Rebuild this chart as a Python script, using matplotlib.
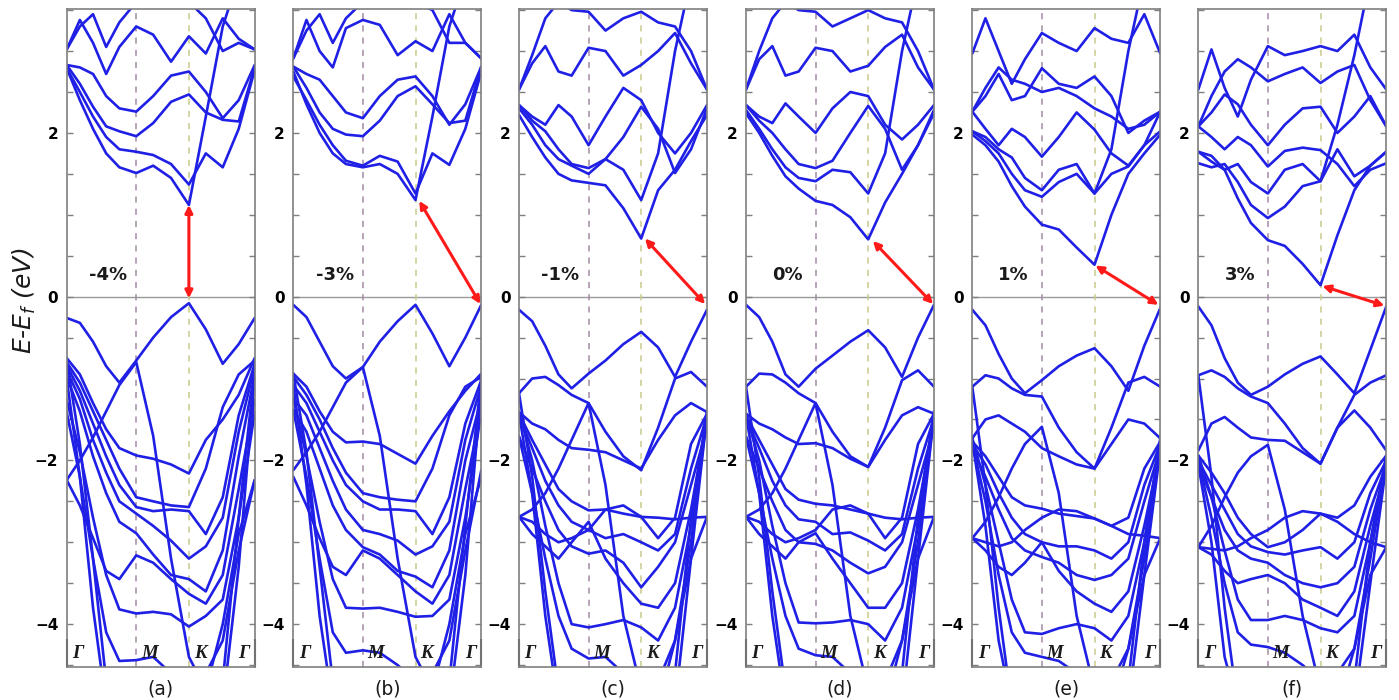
import matplotlib
matplotlib.use('Agg')
import matplotlib.pyplot as plt
from matplotlib.ticker import MultipleLocator

# k-path sample positions (fraction of Gamma-M-K-Gamma path)
k_pts = [0, .07, .14, .21, .28, .37, .46, .555, .65, .74, .83, .915, 1.0]
k_m = 0.37
k_k = 0.65
sym_labels = ['Γ', 'M', 'K', 'Γ']
sym_label_x = [0.06, 0.44, 0.71, 0.945]

panel_tags = ['(a)', '(b)', '(c)', '(d)', '(e)', '(f)']
strains = ['-4%', '-3%', '-1%', '0%', '1%', '3%']

# (k, E) of the gap arrows: conduction band minimum -> valence band maximum
arrow_cbm = [(0.65, 1.12), (0.67, 1.17), (0.67, 0.71), (0.675, 0.68), (0.655, 0.38), (0.66, 0.13)]
arrow_vbm = [(0.65, -0.02), (0.995, -0.09), (0.99, -0.09), (0.995, -0.09), (0.99, -0.10), (0.99, -0.11)]

# ---- band energies (eV) read at k_pts ----
cb_a = [
    [2.79, 2.40, 2.05, 1.75, 1.58, 1.51, 1.60, 1.45, 1.12, 2.20, 3.30, 3.90, 3.90],
    [2.79, 2.50, 2.20, 1.95, 1.80, 1.77, 1.73, 1.62, 1.37, 1.75, 1.58, 2.05, 2.77],
    [2.83, 2.60, 2.32, 2.08, 2.02, 1.96, 2.12, 2.38, 2.47, 2.25, 2.16, 2.14, 2.80],
    [2.83, 2.80, 2.72, 2.45, 2.30, 2.26, 2.45, 2.70, 2.75, 2.50, 2.18, 2.40, 2.83],
    [3.02, 3.38, 3.10, 2.72, 3.05, 3.30, 3.20, 2.87, 3.18, 2.97, 3.40, 3.15, 3.02],
    [3.02, 3.30, 3.45, 3.05, 3.35, 3.60, 3.60, 3.60, 3.60, 3.40, 3.00, 3.10, 3.02],
]
vb_a = [
    [-0.26, -0.32, -0.55, -0.85, -1.05, -0.78, -0.50, -0.25, -0.08, -0.40, -0.82, -0.58, -0.26],
    [-0.75, -0.95, -1.30, -1.62, -1.85, -1.94, -1.98, -2.05, -2.16, -1.75, -1.50, -1.20, -0.75],
    [-2.24, -2.00, -1.72, -1.40, -1.08, -0.80, -1.70, -3.20, -4.40, -4.80, -4.00, -2.90, -2.24],
    [-0.80, -1.05, -1.40, -1.75, -2.10, -2.45, -2.50, -2.55, -2.57, -2.10, -1.35, -0.95, -0.78],
    [-0.84, -1.15, -1.55, -1.95, -2.30, -2.57, -2.62, -2.60, -2.62, -2.90, -2.45, -1.45, -0.82],
    [-0.90, -1.25, -1.75, -2.15, -2.50, -2.65, -2.80, -2.98, -3.20, -3.05, -2.70, -1.65, -0.86],
    [-0.98, -1.40, -1.95, -2.40, -2.75, -2.89, -3.15, -3.40, -3.45, -3.60, -3.10, -1.95, -0.95],
    [-2.24, -2.55, -2.95, -3.35, -3.45, -3.16, -3.25, -3.45, -3.63, -3.75, -3.40, -2.35, -1.26],
    [-1.26, -1.90, -2.70, -3.40, -3.82, -3.87, -3.85, -3.88, -4.03, -3.90, -3.70, -2.70, -1.41],
    [-1.41, -2.20, -3.20, -4.10, -4.45, -4.44, -4.40, -4.60, -4.80, -4.60, -4.20, -3.10, -2.24],
    [-0.78, -1.80, -3.20, -4.70, -5.00, -5.00, -5.00, -5.00, -5.00, -5.00, -4.70, -2.70, -0.90],
    [-1.00, -2.20, -3.80, -5.00, -5.00, -5.00, -5.00, -5.00, -5.00, -5.00, -5.00, -3.30, -0.98],
]

cb_b = [
    [2.75, 2.35, 2.00, 1.75, 1.62, 1.58, 1.62, 1.50, 1.18, 2.20, 3.30, 3.90, 3.90],
    [2.69, 2.40, 2.10, 1.85, 1.66, 1.60, 1.72, 1.65, 1.26, 1.75, 1.61, 2.05, 2.75],
    [2.81, 2.55, 2.25, 2.05, 1.98, 1.96, 2.15, 2.45, 2.57, 2.35, 2.12, 2.15, 2.81],
    [2.81, 2.72, 2.65, 2.45, 2.25, 2.18, 2.45, 2.65, 2.69, 2.45, 2.10, 2.35, 2.81],
    [2.91, 3.38, 3.00, 2.80, 3.28, 3.38, 3.32, 2.95, 3.12, 3.00, 3.45, 3.10, 2.91],
    [2.91, 3.25, 3.45, 3.10, 3.40, 3.60, 3.60, 3.60, 3.60, 3.50, 3.10, 3.10, 2.91],
]
vb_b = [
    [-0.10, -0.25, -0.55, -0.85, -1.00, -0.86, -0.55, -0.30, -0.10, -0.45, -0.85, -0.50, -0.10],
    [-0.94, -1.10, -1.40, -1.65, -1.78, -1.77, -1.80, -1.92, -2.04, -1.70, -1.40, -1.15, -0.94],
    [-2.12, -1.90, -1.65, -1.35, -1.05, -0.86, -1.70, -3.20, -4.40, -4.80, -4.00, -2.90, -2.20],
    [-0.98, -1.20, -1.50, -1.85, -2.15, -2.40, -2.45, -2.48, -2.50, -2.10, -1.45, -1.10, -0.98],
    [-1.08, -1.30, -1.65, -2.00, -2.30, -2.50, -2.60, -2.60, -2.62, -2.90, -2.45, -1.55, -1.02],
    [-1.24, -1.45, -1.85, -2.25, -2.60, -2.85, -2.90, -2.98, -3.15, -3.05, -2.75, -1.75, -1.08],
    [-1.38, -1.65, -2.10, -2.55, -2.85, -3.06, -3.15, -3.35, -3.42, -3.55, -3.10, -2.00, -1.24],
    [-2.20, -2.55, -2.95, -3.30, -3.40, -3.10, -3.20, -3.40, -3.60, -3.75, -3.40, -2.35, -1.38],
    [-1.24, -1.95, -2.75, -3.45, -3.80, -3.81, -3.80, -3.85, -3.91, -3.90, -3.70, -2.70, -1.40],
    [-1.38, -2.20, -3.20, -4.10, -4.35, -4.32, -4.35, -4.50, -4.70, -4.60, -4.20, -3.10, -2.12],
    [-0.94, -1.90, -3.30, -4.70, -5.00, -5.00, -5.00, -5.00, -5.00, -5.00, -4.70, -2.80, -1.00],
    [-1.08, -2.30, -3.90, -5.00, -5.00, -5.00, -5.00, -5.00, -5.00, -5.00, -5.00, -3.40, -1.10],
]

cb_c = [
    [2.22, 1.95, 1.70, 1.50, 1.42, 1.39, 1.36, 1.08, 0.71, 1.30, 1.55, 1.90, 2.22],
    [2.30, 2.10, 1.85, 1.68, 1.60, 1.50, 1.68, 1.55, 1.18, 1.75, 3.00, 3.90, 3.90],
    [2.34, 2.20, 2.10, 2.34, 2.20, 1.85, 2.20, 2.55, 2.40, 2.00, 1.75, 2.00, 2.34],
    [2.34, 2.15, 2.02, 1.80, 1.62, 1.57, 1.68, 1.95, 2.32, 2.05, 1.51, 1.80, 2.30],
    [2.53, 2.85, 3.06, 2.75, 2.70, 3.04, 3.00, 2.70, 2.83, 3.00, 3.22, 2.85, 2.53],
    [2.53, 2.95, 3.40, 3.60, 3.50, 3.48, 3.25, 3.40, 3.48, 3.35, 3.30, 3.00, 2.53],
]
vb_c = [
    [-0.16, -0.30, -0.60, -0.95, -1.12, -0.94, -0.78, -0.58, -0.43, -0.62, -0.98, -0.55, -0.16],
    [-1.18, -1.00, -0.98, -1.08, -1.20, -1.30, -1.65, -1.95, -2.12, -1.60, -1.00, -0.92, -1.10],
    [-1.41, -1.55, -1.62, -1.75, -1.85, -1.87, -1.90, -2.00, -2.10, -1.75, -1.45, -1.30, -1.41],
    [-1.43, -1.75, -2.05, -2.35, -2.50, -2.61, -2.60, -2.65, -2.69, -2.95, -2.70, -1.80, -1.43],
    [-1.45, -1.85, -2.25, -2.55, -2.75, -2.85, -2.95, -2.90, -3.00, -3.10, -2.90, -2.10, -1.45],
    [-1.71, -2.10, -2.50, -2.85, -3.05, -3.14, -3.10, -3.25, -3.55, -3.30, -3.00, -2.30, -1.60],
    [-2.69, -2.90, -3.05, -3.20, -3.00, -2.75, -3.20, -3.50, -3.75, -3.80, -3.50, -2.60, -1.50],
    [-2.69, -2.60, -2.40, -2.10, -1.75, -1.30, -2.30, -3.90, -4.80, -5.00, -4.20, -3.20, -2.69],
    [-1.41, -2.00, -2.80, -3.50, -4.00, -4.04, -4.00, -3.95, -4.04, -4.20, -3.80, -2.80, -1.43],
    [-1.71, -2.40, -3.20, -3.90, -4.30, -4.42, -4.40, -4.60, -4.80, -4.70, -4.20, -3.00, -1.45],
    [-1.18, -2.20, -3.60, -4.80, -5.00, -5.00, -5.00, -5.00, -5.00, -5.00, -4.60, -2.70, -1.40],
    [-1.43, -2.40, -3.90, -5.00, -5.00, -5.00, -5.00, -5.00, -5.00, -5.00, -5.00, -3.20, -1.45],
    [-2.69, -2.75, -2.90, -3.00, -2.95, -2.85, -2.60, -2.55, -2.69, -2.70, -2.72, -2.70, -2.69],
]

cb_d = [
    [2.24, 2.00, 1.72, 1.47, 1.32, 1.17, 1.12, 0.97, 0.70, 1.15, 1.50, 1.85, 2.24],
    [2.28, 2.05, 1.80, 1.58, 1.45, 1.41, 1.55, 1.52, 1.26, 1.75, 3.00, 3.90, 3.90],
    [2.34, 2.20, 2.12, 2.36, 2.20, 2.00, 2.30, 2.50, 2.45, 2.10, 1.92, 2.10, 2.34],
    [2.34, 2.15, 2.00, 1.80, 1.62, 1.57, 1.66, 2.00, 2.33, 2.05, 1.55, 1.85, 2.28],
    [2.53, 2.90, 3.06, 2.70, 2.75, 3.04, 3.00, 2.75, 2.82, 3.05, 3.20, 2.80, 2.53],
    [2.53, 3.00, 3.40, 3.60, 3.50, 3.48, 3.30, 3.40, 3.50, 3.40, 3.35, 3.00, 2.53],
]
vb_d = [
    [-0.10, -0.25, -0.55, -0.95, -1.10, -0.88, -0.72, -0.55, -0.41, -0.62, -0.98, -0.50, -0.10],
    [-1.10, -0.94, -0.95, -1.05, -1.18, -1.30, -1.65, -1.95, -2.08, -1.60, -1.02, -0.90, -1.10],
    [-1.43, -1.55, -1.62, -1.72, -1.80, -1.79, -1.85, -1.98, -2.08, -1.75, -1.45, -1.35, -1.43],
    [-1.45, -1.75, -2.05, -2.35, -2.48, -2.53, -2.55, -2.60, -2.65, -2.95, -2.70, -1.80, -1.43],
    [-1.48, -1.85, -2.25, -2.55, -2.72, -2.75, -2.90, -2.88, -2.98, -3.10, -2.90, -2.10, -1.48],
    [-1.71, -2.10, -2.50, -2.85, -3.00, -3.02, -3.10, -3.25, -3.38, -3.30, -3.00, -2.30, -1.60],
    [-2.69, -2.90, -3.05, -3.20, -3.00, -2.89, -3.20, -3.50, -3.80, -3.80, -3.50, -2.60, -1.52],
    [-2.69, -2.60, -2.40, -2.10, -1.75, -1.30, -2.30, -3.90, -4.80, -5.00, -4.20, -3.20, -2.69],
    [-1.43, -2.00, -2.80, -3.50, -3.98, -3.99, -3.98, -3.95, -4.00, -4.20, -3.80, -2.80, -1.43],
    [-1.71, -2.40, -3.20, -3.90, -4.30, -4.38, -4.40, -4.60, -4.80, -4.70, -4.20, -3.00, -1.45],
    [-1.10, -2.20, -3.60, -4.80, -5.00, -5.00, -5.00, -5.00, -5.00, -5.00, -4.60, -2.70, -1.40],
    [-1.45, -2.40, -3.90, -5.00, -5.00, -5.00, -5.00, -5.00, -5.00, -5.00, -5.00, -3.20, -1.45],
    [-2.69, -2.75, -2.90, -3.00, -2.95, -2.85, -2.60, -2.55, -2.65, -2.70, -2.72, -2.70, -2.69],
]

cb_e = [
    [1.98, 1.85, 1.65, 1.35, 1.10, 0.88, 0.82, 0.60, 0.39, 1.00, 1.50, 1.75, 1.98],
    [2.02, 1.90, 1.75, 1.50, 1.30, 1.22, 1.40, 1.50, 1.26, 1.80, 3.00, 3.90, 3.90],
    [2.02, 1.95, 1.80, 1.70, 1.45, 1.30, 1.55, 1.62, 1.26, 1.50, 1.59, 1.85, 2.02],
    [2.26, 2.05, 1.85, 2.05, 1.95, 1.71, 1.95, 2.25, 2.04, 1.75, 1.60, 1.85, 2.26],
    [2.26, 2.45, 2.72, 2.40, 2.45, 2.79, 2.60, 2.55, 2.69, 2.45, 2.00, 2.15, 2.26],
    [2.26, 2.55, 2.80, 2.65, 2.60, 2.50, 2.55, 2.45, 2.30, 2.20, 2.05, 2.10, 2.26],
    [2.97, 3.40, 3.00, 2.60, 2.90, 3.22, 3.10, 3.00, 3.28, 3.15, 3.10, 3.45, 2.97],
]
vb_e = [
    [-0.16, -0.35, -0.70, -1.00, -1.18, -1.02, -0.85, -0.72, -0.63, -0.85, -1.15, -0.60, -0.14],
    [-1.10, -0.96, -1.00, -1.12, -1.20, -1.22, -1.60, -1.90, -2.10, -1.60, -1.05, -0.98, -1.10],
    [-1.73, -1.50, -1.45, -1.55, -1.65, -1.85, -1.95, -2.05, -2.10, -1.80, -1.50, -1.55, -1.73],
    [-1.77, -1.95, -2.20, -2.45, -2.55, -2.59, -2.65, -2.68, -2.71, -2.80, -2.70, -2.10, -1.77],
    [-1.80, -2.05, -2.40, -2.70, -2.90, -3.00, -3.05, -3.05, -3.10, -3.20, -3.00, -2.30, -1.80],
    [-1.87, -2.20, -2.60, -2.95, -3.10, -3.18, -3.25, -3.40, -3.46, -3.40, -3.20, -2.50, -1.85],
    [-2.95, -3.10, -3.30, -3.40, -3.25, -3.00, -3.35, -3.60, -3.75, -3.85, -3.60, -2.80, -1.87],
    [-2.95, -2.75, -2.45, -2.10, -1.80, -1.59, -2.40, -3.90, -4.80, -5.00, -4.30, -3.40, -2.95],
    [-1.73, -2.30, -3.00, -3.70, -4.10, -4.12, -4.05, -4.00, -4.05, -4.20, -3.90, -3.00, -1.73],
    [-1.80, -2.50, -3.40, -4.10, -4.35, -4.40, -4.45, -4.60, -4.80, -4.70, -4.30, -3.20, -1.80],
    [-1.10, -2.30, -3.80, -5.00, -5.00, -5.00, -5.00, -5.00, -5.00, -5.00, -4.70, -3.00, -1.77],
    [-1.77, -2.80, -4.20, -5.00, -5.00, -5.00, -5.00, -5.00, -5.00, -5.00, -5.00, -3.40, -1.87],
    [-2.95, -3.00, -3.05, -3.00, -2.85, -2.70, -2.60, -2.62, -2.71, -2.80, -2.90, -2.92, -2.95],
]

cb_f = [
    [1.77, 1.72, 1.55, 1.20, 0.90, 0.69, 0.62, 0.40, 0.14, 0.75, 1.30, 1.60, 1.77],
    [1.63, 1.58, 1.62, 1.40, 1.12, 0.96, 1.10, 1.35, 1.41, 2.10, 2.95, 3.90, 3.90],
    [1.77, 1.65, 1.55, 1.62, 1.40, 1.26, 1.55, 1.62, 1.41, 1.80, 1.47, 1.60, 1.77],
    [2.08, 1.95, 1.80, 1.95, 1.85, 1.59, 1.78, 1.82, 1.79, 1.62, 1.35, 1.55, 1.63],
    [2.08, 2.25, 2.47, 2.35, 2.10, 1.85, 2.10, 2.30, 2.32, 2.00, 2.20, 2.45, 2.08],
    [2.08, 2.45, 2.75, 2.90, 2.80, 2.63, 2.72, 2.80, 2.61, 2.75, 2.83, 2.40, 2.08],
    [2.53, 3.02, 2.55, 2.20, 2.65, 3.06, 2.95, 3.00, 3.06, 3.00, 3.20, 2.80, 2.53],
]
vb_f = [
    [-0.12, -0.35, -0.75, -1.05, -1.20, -1.10, -0.95, -0.82, -0.73, -0.95, -1.18, -0.65, -0.12],
    [-0.96, -0.90, -0.98, -1.12, -1.22, -1.30, -1.55, -1.85, -2.04, -1.60, -1.20, -1.05, -0.96],
    [-1.88, -1.55, -1.47, -1.60, -1.72, -1.75, -1.76, -1.90, -2.04, -1.60, -1.39, -1.60, -1.88],
    [-1.94, -2.15, -2.40, -2.70, -2.90, -3.06, -3.00, -2.85, -2.65, -2.70, -2.55, -2.20, -1.94],
    [-2.00, -2.30, -2.60, -2.90, -3.05, -3.12, -3.15, -3.10, -3.06, -3.20, -3.00, -2.40, -2.00],
    [-2.05, -2.45, -2.85, -3.10, -3.20, -3.25, -3.40, -3.50, -3.55, -3.50, -3.30, -2.60, -2.05],
    [-3.06, -3.15, -3.35, -3.50, -3.45, -3.40, -3.50, -3.70, -3.80, -3.90, -3.60, -2.80, -2.08],
    [-3.06, -2.80, -2.45, -2.15, -1.95, -1.81, -2.60, -3.90, -4.80, -5.00, -4.30, -3.40, -3.06],
    [-1.94, -2.45, -3.10, -3.70, -3.95, -3.95, -3.90, -3.95, -4.05, -4.10, -3.90, -3.00, -1.94],
    [-2.00, -2.70, -3.50, -4.10, -4.25, -4.28, -4.35, -4.50, -4.70, -4.60, -4.30, -3.20, -2.00],
    [-0.96, -2.20, -3.80, -5.00, -5.00, -5.00, -5.00, -5.00, -5.00, -5.00, -4.70, -3.00, -2.00],
    [-2.05, -3.00, -4.40, -5.00, -5.00, -5.00, -5.00, -5.00, -5.00, -5.00, -5.00, -3.50, -2.05],
    [-3.06, -3.08, -3.10, -3.05, -2.95, -2.85, -2.70, -2.62, -2.65, -2.75, -2.90, -3.00, -3.06],
]

conduction = [cb_a, cb_b, cb_c, cb_d, cb_e, cb_f]
valence = [vb_a, vb_b, vb_c, vb_d, vb_e, vb_f]

BAND_COLOR = '#1f1fe6'
FRAME_COLOR = '#7f7f7f'

fig = plt.figure(figsize=(13.99, 7.0), dpi=100)
W, H = 1399.0, 700.0
left_px = [66.7, 293.3, 519.0, 746.0, 972.3, 1198.3]
ax_w = 188.0 / W
ax_b = (H - 666.7) / H
ax_h = (666.7 - 9.3) / H

for i in range(6):
    ax = fig.add_axes([left_px[i] / W, ax_b, ax_w, ax_h])
    ax.set_xlim(0, 1)
    ax.set_ylim(-4.52, 3.51)

    ax.axhline(0, color='#9a9a9a', lw=1.0, zorder=1)
    ax.axvline(k_m, color='#a48aa4', lw=1.1, ls=(0, (4, 4)), zorder=1)
    ax.axvline(k_k, color='#c9c98a', lw=1.1, ls=(0, (4, 4)), zorder=1)

    for band in conduction[i] + valence[i]:
        ax.plot(k_pts, band, color=BAND_COLOR, lw=1.9, solid_joinstyle='round',
                solid_capstyle='round', zorder=2)

    ax.annotate('', xy=arrow_vbm[i], xytext=arrow_cbm[i],
                arrowprops=dict(arrowstyle='<|-|>', color='#ff1a1a', lw=2.2,
                                mutation_scale=11, shrinkA=0, shrinkB=0),
                zorder=4)

    ax.text(0.22, 0.26, strains[i], fontsize=13, fontweight='bold',
            ha='center', va='center', color='#1a1a1a')

    for lab, lx in zip(sym_labels, sym_label_x):
        ax.text(lx, -4.36, lab, fontsize=13.5, fontweight='bold', fontstyle='italic',
                family='Liberation Serif', ha='center', va='center', color='#1a1a1a',
                zorder=5)

    ax.set_yticks([-4, -2, 0, 2])
    ax.set_yticklabels(['\u22124', '\u22122', '0', '2'])
    ax.yaxis.set_minor_locator(MultipleLocator(0.5))
    ax.tick_params(axis='y', which='both', direction='in', left=True, right=True,
                   length=4, width=1, color=FRAME_COLOR, labelsize=11, pad=6)
    for lbl in ax.get_yticklabels():
        lbl.set_fontweight('bold')
    ax.set_xticks([0, 1])
    ax.set_xticklabels([])
    ax.tick_params(axis='x', direction='in', length=20, width=1.5, color='#333333')
    for sp in ax.spines.values():
        sp.set_color(FRAME_COLOR)
        sp.set_linewidth(1.2)

    fig.text((left_px[i] + 94) / W, 1 - 689 / H, panel_tags[i], fontsize=13.5,
             ha='center', va='center', color='#1a1a1a')

fig.text(24 / W, 1 - 300 / H, 'E-E$_f$ (eV)', rotation=90, fontsize=18,
         fontstyle='italic', ha='center', va='center', color='#1a1a1a')

fig.savefig('out.png', dpi=100)
